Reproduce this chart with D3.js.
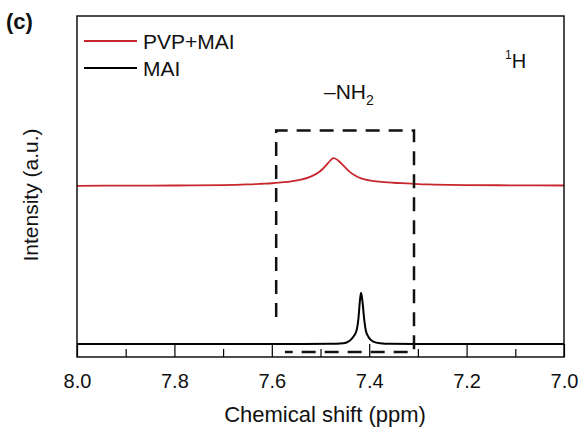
<!DOCTYPE html>
<html>
<head>
<meta charset="utf-8">
<script src="https://cdn.jsdelivr.net/npm/d3@7"></script>
<style>
  html, body { margin: 0; padding: 0; background: #fff; }
  svg { display: block; font-family: "Liberation Sans", Arial, Helvetica, sans-serif; }
</style>
</head>
<body>
<svg id="chart" width="584" height="428"></svg>
<script>
// ---- Data ----
const xTicksMajor = [8.0, 7.8, 7.6, 7.4, 7.2, 7.0];
const xTicksMinor = [7.9, 7.7, 7.5, 7.3, 7.1];
const seriesNames = ["PVP+MAI", "MAI"];
const seriesColors = ["#c8282d", "#000000"];

// PVP+MAI spectrum: [ppm, intensity]
const pvpMai = [
  [8.00, 50.2], [7.90, 50.25], [7.80, 50.3], [7.70, 50.4], [7.65, 50.6],
  [7.62, 50.8], [7.60, 50.95], [7.58, 51.2], [7.56, 51.5], [7.54, 52.0],
  [7.52, 52.9], [7.505, 54.0], [7.495, 55.2], [7.485, 56.8], [7.478, 57.9],
  [7.474, 58.3], [7.470, 58.2], [7.462, 57.4], [7.452, 56.0], [7.44, 54.3],
  [7.43, 53.3], [7.415, 52.3], [7.40, 51.8], [7.38, 51.4], [7.35, 51.1],
  [7.32, 50.9], [7.28, 50.6], [7.20, 50.4], [7.10, 50.35], [7.00, 50.3]
];

// MAI spectrum: [ppm, intensity]
const mai = [
  [8.00, 3.8], [7.70, 3.8], [7.55, 3.82], [7.4805, 3.85], [7.4532, 4.02],
  [7.4429, 4.49], [7.4326, 5.95], [7.4257, 7.92], [7.4224, 10.85],
  [7.4189, 16.72], [7.4168, 18.86], [7.4142, 16.72], [7.4101, 10.85],
  [7.4072, 7.92], [7.4018, 5.95], [7.3916, 4.49], [7.3778, 4.02],
  [7.3573, 3.85], [7.25, 3.82], [7.00, 3.8]
];

// dashed annotation box (ppm / intensity units)
const boxLeft = 7.591, boxRight = 7.308, boxTop = 66.4;
const boxLeftBottom = 11.7, boxRightBottom = 1.5, boxBottomEnd = 7.573;

// ---- Layout ----
const svg = d3.select("#chart");
const L = 77, R = 564, T = 16, B = 357;
const x = d3.scaleLinear().domain([8.0, 7.0]).range([L, R]);
const y = d3.scaleLinear().domain([0, 100]).range([B, T]);

// Axis ticks (inward)
const axMinor = d3.axisBottom(x).tickValues(xTicksMinor).tickSizeInner(-8).tickSizeOuter(0).tickFormat("");
const axMajor = d3.axisBottom(x).tickValues(xTicksMajor).tickSizeInner(-13).tickSizeOuter(0)
  .tickPadding(17).tickFormat(d3.format(".1f"));

const gMinor = svg.append("g").attr("transform", `translate(0,${B})`).call(axMinor);
const gMajor = svg.append("g").attr("transform", `translate(0,${B})`).call(axMajor);
[gMinor, gMajor].forEach(g => {
  g.select(".domain").remove();
  g.selectAll("line").attr("stroke", "#000").attr("stroke-width", 1.2);
});
gMajor.selectAll("text").attr("font-size", 20).attr("fill", "#111")
  .attr("font-family", "'Liberation Sans', Arial, sans-serif");

// Curves
const redLine = d3.line().x(d => x(d[0])).y(d => y(d[1])).curve(d3.curveCatmullRom.alpha(0.5));
const line = d3.line().x(d => x(d[0])).y(d => y(d[1])).curve(d3.curveMonotoneX);
svg.append("path").datum(pvpMai).attr("d", redLine).attr("fill", "none")
  .attr("stroke", seriesColors[0]).attr("stroke-width", 1.8);
svg.append("path").datum(mai).attr("d", line).attr("fill", "none")
  .attr("stroke", seriesColors[1]).attr("stroke-width", 2);

// Dashed box
const boxPath = d3.path();
boxPath.moveTo(x(boxLeft), y(boxLeftBottom));
boxPath.lineTo(x(boxLeft), y(boxTop));
boxPath.lineTo(x(boxRight), y(boxTop));
boxPath.lineTo(x(boxRight), y(boxRightBottom));
boxPath.lineTo(x(boxBottomEnd), y(boxRightBottom));
svg.append("path").attr("d", boxPath.toString()).attr("fill", "none")
  .attr("stroke", "#111").attr("stroke-width", 2.5).attr("stroke-dasharray", "14,9");

// Frame
svg.append("rect").attr("x", L).attr("y", T).attr("width", R - L).attr("height", B - T)
  .attr("fill", "none").attr("stroke", "#000").attr("stroke-width", 1.4);

// Legend
const legY = [41, 68];
seriesNames.forEach((name, i) => {
  svg.append("line").attr("x1", 84).attr("x2", 137).attr("y1", legY[i]).attr("y2", legY[i])
    .attr("stroke", seriesColors[i]).attr("stroke-width", 2);
  svg.append("text").attr("x", 143).attr("y", legY[i] + 7.5).attr("font-size", 21)
    .attr("fill", "#111").text(name);
});

// Annotations
svg.append("text").attr("x", 6).attr("y", 29).attr("font-size", 22).attr("font-weight", "bold")
  .attr("fill", "#111").text("(c)");

const h1 = svg.append("text").attr("x", 505).attr("y", 68).attr("font-size", 20).attr("fill", "#111");
h1.append("tspan").attr("font-size", 12).attr("dy", -9).text("1");
h1.append("tspan").attr("dy", 9).text("H");

const nh2 = svg.append("text").attr("x", 324).attr("y", 98.5).attr("font-size", 21).attr("fill", "#111");
nh2.append("tspan").text("\u2013NH");
nh2.append("tspan").attr("font-size", 14).attr("dy", 6).text("2");

// Axis titles
svg.append("text").attr("x", 325).attr("y", 421.5).attr("text-anchor", "middle")
  .attr("font-size", 22).attr("fill", "#111").text("Chemical shift (ppm)");
svg.append("text").attr("transform", "translate(38,195) rotate(-90)").attr("text-anchor", "middle")
  .attr("font-size", 21).attr("fill", "#111").text("Intensity (a.u.)");
</script>
</body>
</html>
